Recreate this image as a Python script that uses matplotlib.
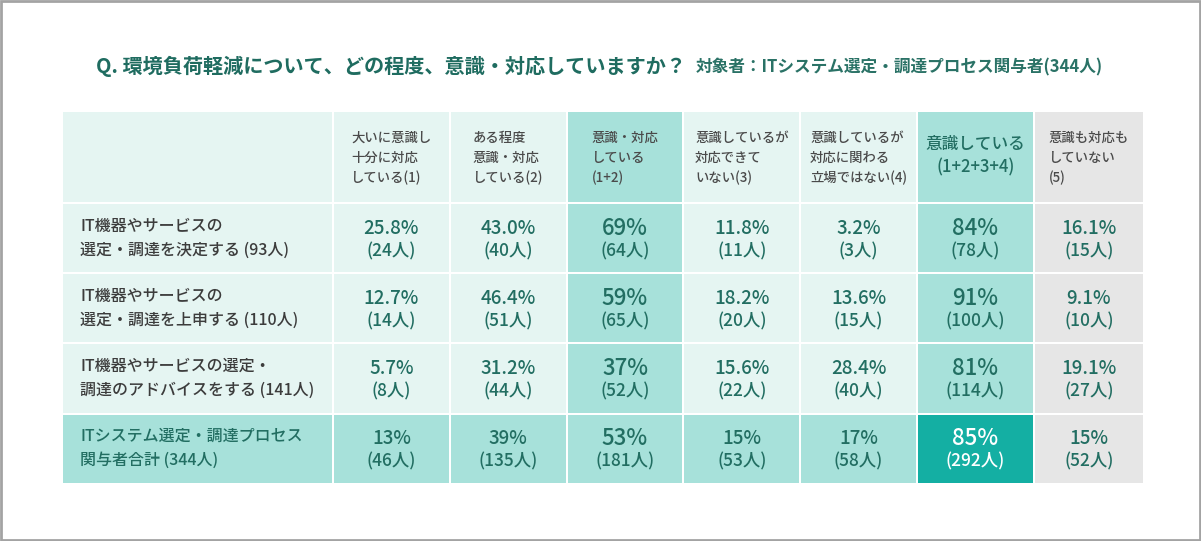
import matplotlib
matplotlib.use("Agg")
import matplotlib.pyplot as plt
from matplotlib.patches import Rectangle

plt.rcParams['font.family'] = ['Noto Sans CJK JP', 'DejaVu Sans']

title = "Q. 環境負荷軽減について、どの程度、意識・対応していますか？"
subtitle = "対象者：ITシステム選定・調達プロセス関与者(344人)"

col_labels = ["大いに意識し\n十分に対応\nしている(1)",
              "ある程度\n意識・対応\nしている(2)",
              "意識・対応\nしている\n(1+2)",
              "意識しているが\n対応できて\nいない(3)",
              "意識しているが\n対応に関わる\n立場ではない(4)",
              "意識している\n(1+2+3+4)",
              "意識も対応も\nしていない\n(5)"]
row_labels = ["IT機器やサービスの\n選定・調達を決定する (93人)",
              "IT機器やサービスの\n選定・調達を上申する (110人)",
              "IT機器やサービスの選定・\n調達のアドバイスをする (141人)",
              "ITシステム選定・調達プロセス\n関与者合計 (344人)"]
pcts = [[25.8, 43.0, 69, 11.8, 3.2, 84, 16.1],
        [12.7, 46.4, 59, 18.2, 13.6, 91, 9.1],
        [5.7, 31.2, 37, 15.6, 28.4, 81, 19.1],
        [13, 39, 53, 15, 17, 85, 15]]
counts = [[24, 40, 64, 11, 3, 78, 15],
          [14, 51, 65, 20, 15, 100, 10],
          [8, 44, 52, 22, 40, 114, 27],
          [46, 135, 181, 53, 58, 292, 52]]
subtotal_cols = [2, 5]

# colours
LIGHT = "#E5F5F2"
MID = "#A7E1DA"
DARK = "#14AFA3"
GRAY = "#E6E6E6"
TEAL_TXT = "#226E62"
HEAD_TXT = "#4A4A4A"
LABEL_TXT = "#3C3C3C"

W, H = 1201, 541
fig = plt.figure(figsize=(W / 100, H / 100), dpi=100)
ax = fig.add_axes([0, 0, 1, 1])
ax.set_xlim(0, W)
ax.set_ylim(H, 0)
ax.axis("off")

# outer frame
ax.add_patch(Rectangle((1, 1), W - 2, H - 2, fill=False, ec="#A3A3A3", lw=2))

# layout
x0, first_w, col_w, last_w, gap = 63, 269, 116.8, 108, 2
y0, head_h, row_h = 112, 90, 70.2
col_x = [x0 + first_w + gap + i * col_w for i in range(len(col_labels))]
col_ws = [col_w - gap] * (len(col_labels) - 1) + [last_w]
row_y = [y0 + head_h + gap + i * row_h for i in range(len(row_labels))]


def cell_color(r, c):
    if c == len(col_labels) - 1:
        return GRAY
    if r == len(row_labels) - 1:
        return DARK if c == 5 else MID
    return MID if c in subtotal_cols else LIGHT


# header row
ax.add_patch(Rectangle((x0, y0), first_w, head_h, color=LIGHT, lw=0))
for c, lab in enumerate(col_labels):
    ax.add_patch(Rectangle((col_x[c], y0), col_ws[c], head_h, color=cell_color(0, c), lw=0))
    cx = col_x[c] + col_ws[c] / 2
    if c == 5:
        ax.text(cx, y0 + head_h / 2 - 1, lab, ha="center", va="center", multialignment="center",
                fontsize=12, color=TEAL_TXT, linespacing=1.4, fontweight="medium")
    else:
        ax.text(cx, y0 + head_h / 2 + 1, lab, ha="center", va="center", multialignment="left",
                fontsize=9.6, color=HEAD_TXT, linespacing=1.55, fontweight="medium")

# body rows
for r, lab in enumerate(row_labels):
    ytop = row_y[r]
    last = r == len(row_labels) - 1
    ax.add_patch(Rectangle((x0, ytop), first_w, row_h - gap, color=MID if last else LIGHT, lw=0))
    ax.text(x0 + 17, ytop + (row_h - gap) / 2, lab, ha="left", va="center", fontweight="medium",
            fontsize=11.5, color=TEAL_TXT if last else LABEL_TXT, linespacing=1.55)
    for c in range(len(col_labels)):
        ax.add_patch(Rectangle((col_x[c], ytop), col_ws[c], row_h - gap,
                               color=cell_color(r, c), lw=0))
        cx = col_x[c] + col_ws[c] / 2
        cy = ytop + (row_h - gap) / 2
        big = c in subtotal_cols
        whole = big or last
        txt = f"{pcts[r][c]:.0f}%" if whole else f"{pcts[r][c]:.1f}%"
        tc = "white" if cell_color(r, c) == DARK else TEAL_TXT
        ax.text(cx, cy - 10, txt, ha="center", va="center", fontweight="medium",
                fontsize=16 if big else 13.5, color=tc)
        ax.text(cx, cy + 13, f"({counts[r][c]}人)", ha="center", va="center",
                fontsize=12.5, color=tc, fontweight="medium")

# title
t = ax.text(96, 66, title, ha="left", va="center", fontsize=14.5,
            fontweight="bold", color="#1F6C60")
fig.canvas.draw()
bb = t.get_window_extent().transformed(ax.transData.inverted())
ax.text(bb.x1 + 10, 67, subtitle, ha="left", va="center", fontsize=12,
        fontweight="bold", color="#2A7266")

fig.savefig("out.png", dpi=100)
